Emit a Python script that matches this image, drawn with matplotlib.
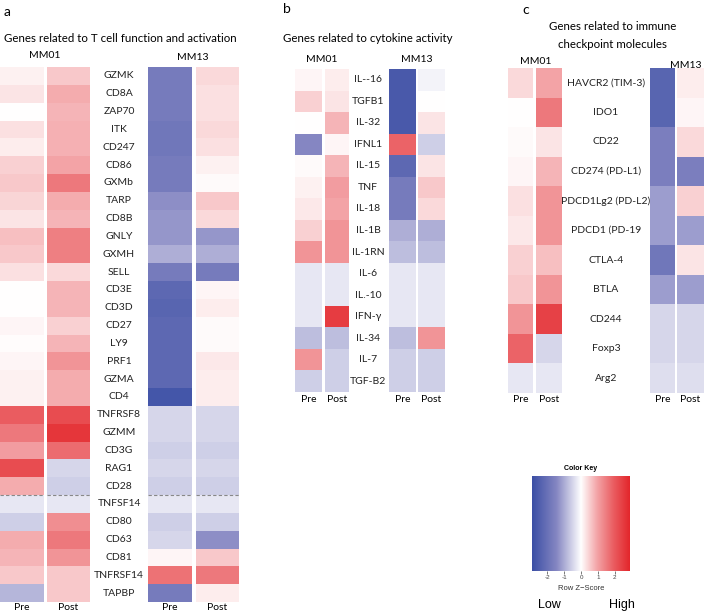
import numpy as np
import matplotlib
matplotlib.use("Agg")
import matplotlib.pyplot as plt
from matplotlib.colors import LinearSegmentedColormap

# ---- data (row z-scores) ----
genes_a = ["GZMK", "CD8A", "ZAP70", "ITK", "CD247", "CD86", "GXMb", "TARP", "CD8B",
           "GNLY", "GXMH", "SELL", "CD3E", "CD3D", "CD27", "LY9", "PRF1", "GZMA", "CD4",
           "TNFRSF8", "GZMM", "CD3G", "RAG1", "CD28", "TNFSF14", "CD80", "CD63", "CD81",
           "TNFRSF14", "TAPBP"]
a_mm01_pre = [0.15, 0.3, 0.0, 0.35, 0.2, 0.5, 0.6, 0.45, 0.3, 0.7, 0.6, 0.35, 0.0, 0.02,
              0.1, 0.03, 0.1, 0.15, 0.15, 2.0, 1.6, 1.1, 2.3, 0.9, -0.3, -0.6, 0.9, 0.8,
              0.6, -0.9]
a_mm01_post = [0.6, 0.9, 0.8, 0.85, 0.85, 1.0, 1.6, 0.9, 0.8, 1.5, 1.5, 0.4, 0.8, 0.8,
               0.5, 0.8, 1.2, 0.9, 0.9, 2.3, 2.7, 1.8, -0.5, -0.6, -0.3, 1.3, 1.6, 1.2,
               0.6, 0.6]
a_mm13_pre = [-1.8, -1.8, -1.8, -1.9, -1.9, -1.8, -1.8, -1.4, -1.3, -1.3, -1.0, -1.8,
              -2.3, -2.4, -2.3, -2.3, -2.3, -2.3, -2.8, -0.5, -0.5, -0.6, -0.5, -0.6,
              -0.3, -0.6, -0.5, 0.1, 1.7, -1.8]
a_mm13_post = [0.4, 0.35, 0.35, 0.4, 0.35, 0.15, 0.05, 0.6, 0.4, -1.3, -1.0, -1.8, 0.1,
               0.2, 0.05, 0.05, 0.25, 0.2, 0.2, -0.5, -0.5, -0.6, -0.5, -0.6, -0.3, -0.6,
               -1.4, 0.6, 1.6, 0.2]

genes_b = ["IL--16", "TGFB1", "IL-32", "IFNL1", "IL-15", "TNF", "IL-18", "IL-1B", "IL-1RN",
           "IL-6", "IL.-10", "IFN-\u03b3", "IL-34", "IL-7", "TGF-B2"]
b_mm01_pre = [0.1, 0.5, 0.0, -1.5, 0.05, 0.15, 0.25, 0.5, 1.2, -0.3, -0.3, -0.3, -0.8,
              1.2, -0.6]
b_mm01_post = [0.2, 0.3, 0.8, 0.1, 0.8, 1.1, 1.0, 1.2, 1.2, -0.3, -0.3, 2.6, -0.8, -0.6,
               -0.6]
b_mm13_pre = [-2.7, -2.7, -2.7, 1.9, -2.3, -1.8, -1.8, -1.0, -0.8, -0.3, -0.3, -0.3, -0.8,
              -0.6, -0.6]
b_mm13_post = [-0.15, 0.0, 0.3, -0.6, 0.3, 0.6, 0.4, -1.0, -0.8, -0.3, -0.3, -0.3, 1.2,
               -0.6, -0.6]

genes_c = ["HAVCR2 (TIM-3)", "IDO1", "CD22", "CD274 (PD-L1)", "PDCD1Lg2 (PD-L2)",
           "PDCD1 (PD-19", "CTLA-4", "BTLA", "CD244", "Foxp3", "Arg2"]
c_mm01_pre = [0.4, 0.0, 0.05, 0.1, 0.35, 0.25, 0.5, 0.6, 1.2, 1.9, -0.3]
c_mm01_post = [1.0, 1.6, 0.3, 0.8, 1.2, 1.2, 0.7, 1.2, 2.5, -0.5, -0.3]
c_mm13_pre = [-2.4, -2.4, -1.7, -1.7, -1.2, -1.2, -1.9, -1.2, -0.5, -0.5, -0.4]
c_mm13_post = [0.2, 0.1, 0.4, -1.7, 0.5, -1.2, 0.3, -1.2, -0.5, -0.5, -0.4]

key_ticks = [-2, -1, 0, 1, 2]

W, H = 704, 612
VMIN, VMAX = -3, 3
# colour stops given as z-score -> colour
stops = [(-3, "#3b4fa5"), (-1.5, "#8586c2"), (0, "#ffffff"), (1.0, "#f3a3a6"),
         (2.0, "#ea5d61"), (3, "#e3262b")]
cmap = LinearSegmentedColormap.from_list(
    "bwr_key", [((z - VMIN) / (VMAX - VMIN), c) for z, c in stops])

plt.rcParams["font.family"] = ["Lato", "DejaVu Sans"]
fig = plt.figure(figsize=(W / 100, H / 100), dpi=100)


def px_axes(x0, y0, x1, y1):
    return fig.add_axes([x0 / W, 1 - y1 / H, (x1 - x0) / W, (y1 - y0) / H])


def txt(x, y, s, **kw):
    fig.text(x / W, 1 - y / H, s, **kw)


def column(x0, x1, y0, y1, vals, dash_after=None):
    ax = px_axes(x0, y0, x1, y1)
    v = np.array(vals).reshape(-1, 1)
    ax.pcolormesh(v, cmap=cmap, vmin=VMIN, vmax=VMAX)
    ax.set_xlim(0, 1)
    ax.set_ylim(len(vals), 0)
    ax.axis("off")
    if dash_after is not None:
        ax.axhline(dash_after, color="#888888", lw=0.8, ls=(0, (3, 2)))
    return ax


def panel(cols, y0, y1, genes, label_x, pre_post_y, dash_after=None):
    for (x0, x1), vals in cols:
        column(x0, x1, y0, y1, vals, dash_after)
    rh = (y1 - y0) / len(genes)
    for i, g in enumerate(genes):
        txt(label_x, y0 + (i + 0.5) * rh, g, ha="center", va="center",
            fontsize=7.5, color="#222222")
    for ((x0, x1), _), lab in zip(cols, ["Pre", "Post", "Pre", "Post"]):
        txt((x0 + x1) / 2, pre_post_y, lab, fontsize=7.5, ha="center", va="center")


# ---- panel a ----
cols_a = [((0, 44), a_mm01_pre), ((47, 90), a_mm01_post),
          ((148, 192), a_mm13_pre), ((196, 239), a_mm13_post)]
panel(cols_a, 67, 602, genes_a, 119, 608, dash_after=24)
txt(4, 12, "a", fontsize=10, ha="left", va="center")
txt(120, 38, "Genes related to T cell function and activation", fontsize=8.3,
    ha="center", va="center")
txt(45, 56, "MM01", fontsize=7.5, ha="center", va="center")
txt(193, 58, "MM13", fontsize=7.5, ha="center", va="center")

# ---- panel b ----
cols_b = [((295, 322), b_mm01_pre), ((325, 349), b_mm01_post),
          ((389, 416), b_mm13_pre), ((418, 445), b_mm13_post)]
panel(cols_b, 69, 392, genes_b, 368, 400)
txt(283, 9, "b", fontsize=10, ha="left", va="center")
txt(368, 39, "Genes related to cytokine activity", fontsize=8.3, ha="center",
    va="center")
txt(322, 60, "MM01", fontsize=7.5, ha="center", va="center")
txt(417, 60, "MM13", fontsize=7.5, ha="center", va="center")

# ---- panel c ----
cols_c = [((508, 533), c_mm01_pre), ((536, 562), c_mm01_post),
          ((650, 675), c_mm13_pre), ((677, 704), c_mm13_post)]
panel(cols_c, 68, 393, genes_c, 606, 400)
txt(522, 10, "c", fontsize=10, ha="left", va="center")
txt(613, 26, "Genes related to immune", fontsize=8.3, ha="center", va="center")
txt(613, 44, "checkpoint molecules", fontsize=8.3, ha="center", va="center")
txt(536, 61, "MM01", fontsize=7.5, ha="center", va="center")
txt(686, 65, "MM13", fontsize=7.5, ha="center", va="center")

# ---- colour key ----
kax = px_axes(532, 476, 630, 571)
grad = np.linspace(VMIN, VMAX, 256).reshape(1, -1)
kax.imshow(grad, aspect="auto", cmap=cmap, vmin=VMIN, vmax=VMAX,
           extent=[-2.9, 2.9, 0, 1])
kax.set_xlim(-2.9, 2.9)
kax.set_yticks([])
kax.set_xticks(key_ticks)
kax.set_xticklabels([str(t) for t in key_ticks], fontsize=4.5,
                    family=["Liberation Sans", "DejaVu Sans"], color="#444444")
kax.tick_params(axis="x", length=2, width=0.5, pad=1, colors="#444444")
for s in kax.spines.values():
    s.set_visible(False)
txt(581, 469, "Color Key", fontsize=5, fontweight="bold", ha="center", va="center",
    family=["Liberation Sans", "DejaVu Sans"])
txt(581, 588, "Row Z\u2212Score", fontsize=5.5, ha="center", va="center",
    family=["Liberation Sans", "DejaVu Sans"], color="#333333")
txt(549, 605, "Low", fontsize=9, ha="center", va="center",
    family=["Liberation Sans", "DejaVu Sans"])
txt(622, 605, "High", fontsize=9, ha="center", va="center",
    family=["Liberation Sans", "DejaVu Sans"])

fig.savefig("out.png", dpi=100)
